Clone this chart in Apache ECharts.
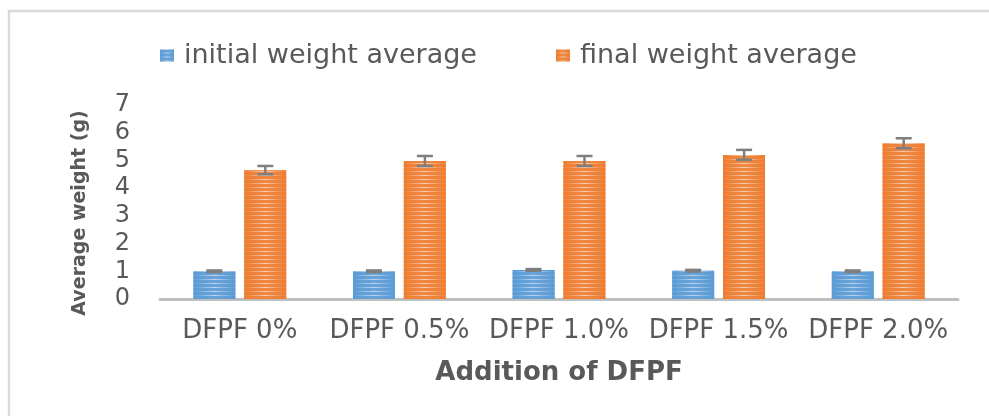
<!DOCTYPE html>
<html>
<head>
<meta charset="utf-8">
<script src="https://cdn.jsdelivr.net/npm/echarts@6/dist/echarts.min.js"></script>
<style>html,body{margin:0;padding:0;background:#fff;}#c{width:989px;height:416px;}</style>
</head>
<body>
<div id="c"></div>
<script>
var categories = ['DFPF 0%', 'DFPF 0.5%', 'DFPF 1.0%', 'DFPF 1.5%', 'DFPF 2.0%'];
var initialWeight = [1.0, 1.0, 1.05, 1.02, 1.0];
var initialError = [0.03, 0.03, 0.03, 0.03, 0.03];
var finalWeight = [4.65, 4.98, 4.98, 5.2, 5.62];
var finalError = [0.15, 0.18, 0.18, 0.18, 0.18];
var yTicks = [0, 1, 2, 3, 4, 5, 6, 7];

var chart = echarts.init(document.getElementById('c'));
var txt = '#595959';
var FONT = 'DejaVu Sans';

function grad(edge, mid) {
  return new echarts.graphic.LinearGradient(0, 0, 1, 0, [
    {offset: 0, color: edge}, {offset: 0.5, color: mid}, {offset: 1, color: edge}
  ]);
}

function errSeries(name, vals, errs, side) {
  return {
    type: 'custom',
    name: name + ' err',
    z: 10,
    silent: true,
    renderItem: function (params, api) {
      var ci = api.value(0);
      var v = api.value(1);
      var e = api.value(2);
      var top = api.coord([ci, v + e]);
      var bot = api.coord([ci, v - e]);
      var off = side * (42 + 9) / 2;
      var x = top[0] + off;
      var cap = 8;
      var st = {stroke: '#7f7f7f', lineWidth: 2.5};
      return {type: 'group', children: [
        {type: 'line', shape: {x1: x, y1: top[1], x2: x, y2: bot[1]}, style: st},
        {type: 'line', shape: {x1: x - cap, y1: top[1], x2: x + cap, y2: top[1]}, style: st},
        {type: 'line', shape: {x1: x - cap, y1: bot[1], x2: x + cap, y2: bot[1]}, style: st}
      ]};
    },
    data: vals.map(function (v, i) { return [i, v, errs[i]]; }),
    encode: {x: 0, y: 1}
  };
}

var legendText = {fontFamily: FONT, fontSize: 27, color: txt, padding: [0, 0, 0, 5]};

chart.setOption({
  animation: false,
  aria: {enabled: true, decal: {show: true}},
  graphic: [{
    type: 'rect', silent: true,
    shape: {x: 9, y: 11, width: 1100, height: 500},
    style: {fill: 'none', stroke: '#d9d9d9', lineWidth: 2.5}
  }],
  legend: [{
    top: 37, left: 155,
    itemWidth: 14, itemHeight: 12,
    textStyle: legendText,
    data: [{name: 'initial weight average', icon: 'rect'}]
  }, {
    top: 37, left: 551,
    itemWidth: 14, itemHeight: 12,
    textStyle: legendText,
    data: [{name: 'final weight average', icon: 'rect'}]
  }],
  grid: {left: 160, right: 31, top: 105, bottom: 117, containLabel: false},
  xAxis: {
    type: 'category', data: categories,
    axisTick: {show: false},
    axisLine: {lineStyle: {color: '#bfbfbf', width: 3}},
    axisLabel: {interval: 0, color: txt, fontFamily: FONT, fontSize: 26, margin: 19},
    name: 'Addition of DFPF', nameLocation: 'middle', nameGap: 61,
    nameTextStyle: {color: txt, fontFamily: FONT, fontSize: 26, fontWeight: 'bold'}
  },
  yAxis: {
    type: 'value', min: 0, max: 7, interval: 1,
    splitLine: {show: false},
    axisLine: {show: false}, axisTick: {show: false},
    axisLabel: {color: txt, fontFamily: FONT, fontSize: 24, margin: 30,
      formatter: function (v) { return yTicks.indexOf(v) >= 0 ? String(v) : ''; }},
    name: 'Average weight (g)', nameLocation: 'middle', nameGap: 70, nameRotate: 90,
    nameTextStyle: {color: txt, fontFamily: FONT, fontSize: 19, fontWeight: 'bold', padding: [0, 0, 0, -22]}
  },
  series: [
    {
      name: 'initial weight average', type: 'bar', barWidth: 42, barGap: '21%',
      data: initialWeight,
      itemStyle: {
        color: grad('#5B9BD5', '#BDD7EE'),
        decal: {symbol: 'rect', symbolSize: 1, dashArrayX: [1, 0], dashArrayY: [3, 1], color: 'rgba(91,155,213,0.85)', rotation: 0}
      }
    },
    {
      name: 'final weight average', type: 'bar', barWidth: 42,
      data: finalWeight,
      itemStyle: {
        color: grad('#ED7D31', '#F8CBAD'),
        decal: {symbol: 'rect', symbolSize: 1, dashArrayX: [1, 0], dashArrayY: [3, 1], color: 'rgba(237,125,49,0.85)', rotation: 0}
      }
    },
    errSeries('initial weight average', initialWeight, initialError, -1),
    errSeries('final weight average', finalWeight, finalError, 1)
  ]
});
</script>
</body>
</html>
